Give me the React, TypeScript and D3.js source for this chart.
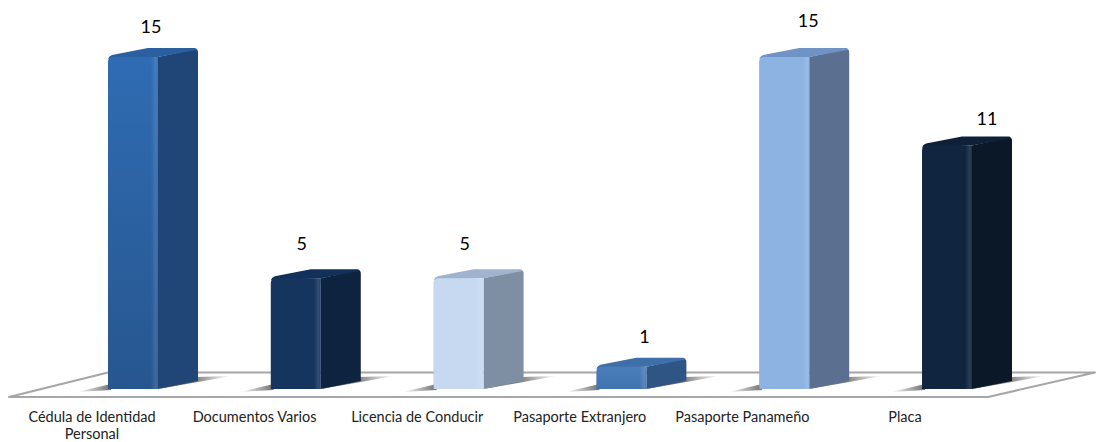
import * as d3 from "d3";

const categories = [
  "Cédula de Identidad Personal",
  "Documentos Varios",
  "Licencia de Conducir",
  "Pasaporte Extranjero",
  "Pasaporte Panameño",
  "Placa",
];
const values = [15, 5, 5, 1, 15, 11];
const frontColors = ["#2f6cb3", "#15355f", "#c6d9f1", "#4a7ebb", "#8db3e2", "#10253f"];
const frontBottomColors = ["#27568f", "#15355f", "#c6d9f1", "#4074b0", "#8db3e2", "#10253f"];
const sideColors = ["#1f4676", "#0e2340", "#7f8fa3", "#2f5585", "#5b7091", "#0a1828"];
const topColors = ["#2a60a0", "#12305a", "#9fb3cf", "#3f6fa8", "#6f93c4", "#0e2139"];

// hand-placed value labels in the original
const labelDx = [43, 31, 31, 48, 49, 65];
const labelDy = [-24, -28, -28, -24, -30, -21];

const width = 1097;
const height = 442;
const depthX = 40;
const depthY = 8;

const x = d3.scaleBand<string>().domain(categories).range([108, 972]).paddingInner(0.693).paddingOuter(0);
const y = d3.scaleLinear().domain([0, 15]).range([389, 57]);
const labelX = d3.scalePoint<string>().domain(categories).range([92, 905]);

function wrap(label: string) {
  return label.startsWith("Cédula") ? ["Cédula de Identidad", "Personal"] : [label];
}

export default function App() {
  const w = x.bandwidth();
  const base = y(0);
  return (
    <svg
      width={width}
      height={height}
      viewBox={`0 0 ${width} ${height}`}
      style={{ position: "absolute", left: 0, top: 0, background: "#fff" }}
      fontFamily="Lato, Carlito, sans-serif"
    >
      <defs>
        <filter id="soft" x="-30%" y="-100%" width="160%" height="300%">
          <feGaussianBlur stdDeviation="0.7" />
        </filter>
        <linearGradient id="shadeL" x1="0" x2="1" y1="0" y2="0">
          <stop offset="0" stopColor="#707070" stopOpacity="0" />
          <stop offset="1" stopColor="#707070" stopOpacity="1" />
        </linearGradient>
        <linearGradient id="shadeR" x1="0" x2="1" y1="0" y2="0">
          <stop offset="0" stopColor="#707070" stopOpacity="1" />
          <stop offset="0.5" stopColor="#707070" stopOpacity="0.9" />
          <stop offset="1" stopColor="#707070" stopOpacity="0" />
        </linearGradient>
        {categories.map((c, i) => (
          <linearGradient key={c} id={`fill${i}`} x1="0" x2="0" y1="0" y2="1">
            <stop offset="0" stopColor={frontColors[i]} />
            <stop offset="1" stopColor={frontBottomColors[i]} />
          </linearGradient>
        ))}
        <linearGradient id="edge" x1="0" x2="1" y1="0" y2="0">
          <stop offset="0" stopColor="#000" stopOpacity="0.08" />
          <stop offset="0.03" stopColor="#fff" stopOpacity="0" />
          <stop offset="0.86" stopColor="#fff" stopOpacity="0" />
          <stop offset="0.96" stopColor="#fff" stopOpacity="0.12" />
          <stop offset="1" stopColor="#fff" stopOpacity="0.04" />
        </linearGradient>
      </defs>

      {/* floor */}
      <path
        d="M9,397 L988,397 L1095,372.5 L108,372.5 Z"
        fill="#fff"
        stroke="#a6a6a6"
        strokeWidth={2}
        strokeLinejoin="round"
      />

      {categories.map((c, i) => {
        const x0 = x(c)!;
        const x1 = x0 + w;
        const top = y(values[i]);
        const r = Math.min(5, (base - top) / 4);
        const front = `M${x0},${base} L${x0},${top + r} Q${x0},${top} ${x0 + r},${top} L${x1},${top} L${x1},${base} Z`;
        return (
          <g key={c}>
            <path d={`M${x0 - 31},${base + 3} L${x0 + 3},${base - 5} L${x0 + 3},${base + 1} Z`} fill="url(#shadeL)" filter="url(#soft)" />
            <path
              d={`M${x1},${base} L${x1 + depthX - 2},${base - depthY - 4} L${x1 + depthX + 33},${base - 13} L${x1 + depthX},${base - depthY + 1} Z`}
              fill="url(#shadeR)"
              filter="url(#soft)"
            />
            {/* side */}
            <path
              d={`M${x1},${top} L${x1 + depthX - 3},${top - depthY} Q${x1 + depthX},${top - depthY} ${x1 + depthX},${top - depthY + 3} L${x1 + depthX},${base - depthY} L${x1},${base} Z`}
              fill={sideColors[i]}
            />
            {/* top */}
            <path
              d={`M${x0},${top + 2} Q${x0 + 1},${top - 1} ${x0 + 4},${top - 2} L${x0 + depthX},${top - depthY - 1} L${x1 + depthX - 3},${top - depthY - 1} Q${x1 + depthX},${top - depthY} ${x1 + depthX - 2},${top - depthY + 1} L${x1},${top} Z`}
              fill={topColors[i]}
            />
            {/* front */}
            <path d={front} fill={`url(#fill${i})`} />
            <path d={front} fill="url(#edge)" />
            <text x={x0 + labelDx[i]} y={top + labelDy[i]} textAnchor="middle" fontSize={18} fill="#000">
              {values[i]}
            </text>
          </g>
        );
      })}

      {categories.map((c) =>
        wrap(c).map((line, j) => (
          <text key={line} x={labelX(c)} y={422 + j * 17} textAnchor="middle" fontSize={14.5} fill="#222">
            {line}
          </text>
        ))
      )}
    </svg>
  );
}
